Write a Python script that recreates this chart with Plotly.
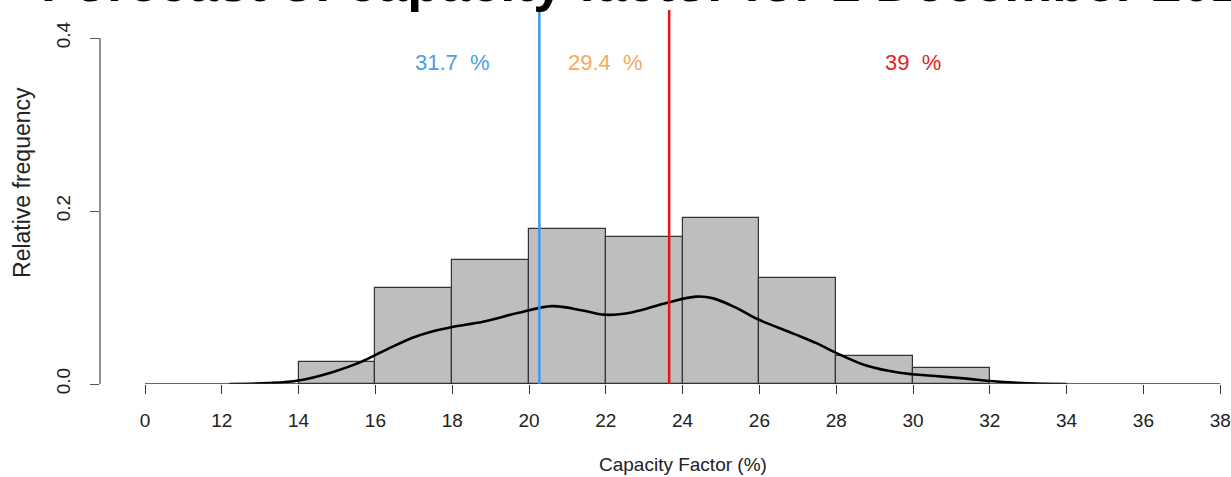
import numpy as np
import plotly.graph_objects as go

# ---------------- data ----------------
bin_edges = [14, 16, 18, 20, 22, 24, 26, 28, 30, 32]
rel_freq = [0.025, 0.111, 0.143, 0.179, 0.170, 0.192, 0.123, 0.032, 0.019]

dens_x = [12.2, 13.2, 14.0, 14.9, 15.6, 16.3, 17.0, 17.5, 18.0, 18.8, 19.7,
          20.6, 21.4, 22.0, 22.7, 23.6, 24.35, 24.8, 25.4, 25.9, 26.9, 27.5,
          28.0, 28.8, 29.65, 30.5, 31.4, 32.0, 33.0, 34.0]
dens_y = [0.0, 0.001, 0.004, 0.014, 0.025, 0.040, 0.054, 0.061, 0.066, 0.072,
          0.082, 0.090, 0.085, 0.080, 0.083, 0.094, 0.101, 0.099, 0.088, 0.076,
          0.058, 0.047, 0.036, 0.021, 0.013, 0.0095, 0.0062, 0.0035, 0.0008, 0.0]

vline_x = [20.27, 23.65]
vline_colors = ["#3C9AE6", "#E5141B"]

label_x = [18, 22, 30]
label_y = 0.372
label_text = ["31.7\u00a0 %", "29.4\u00a0 %", "39\u00a0 %"]
label_colors = ["#4A9FE6", "#F4AA5C", "#E2231A"]

x_tickvals = [10, 12, 14, 16, 18, 20, 22, 24, 26, 28, 30, 32, 34, 36, 38]
x_ticktext = ["0", "12", "14", "16", "18", "20", "22", "24", "26", "28",
              "30", "32", "34", "36", "38"]
y_tickvals = [0.0, 0.2, 0.4]
y_ticktext = ["0.0", "0.2", "0.4"]

title_text = "Forecast of capacity factor for 1 December 2021"
x_title = "Capacity Factor (%)"
y_title = "Relative frequency"

# ---------------- figure ----------------
FONT = "Liberation Sans, Arial, Helvetica, sans-serif"
edges = np.array(bin_edges, dtype=float)
centers = (edges[:-1] + edges[1:]) / 2
widths = np.diff(edges)

fig = go.Figure()
fig.add_trace(go.Bar(
    x=centers, y=rel_freq, width=widths,
    marker=dict(color="#BEBEBE", line=dict(color="#333333", width=1.2)),
    showlegend=False, hoverinfo="skip"))
fig.add_trace(go.Scatter(
    x=dens_x, y=dens_y, mode="lines",
    line=dict(color="black", width=2.6, shape="spline", smoothing=1.0),
    showlegend=False, hoverinfo="skip"))

shapes = []
shapes.append(dict(type="line", xref="x", yref="y",
                   x0=min(x_tickvals), x1=max(x_tickvals), y0=0, y1=0,
                   line=dict(color="#333333", width=1.3), layer="above"))
shapes.append(dict(type="line", xref="paper", yref="y",
                   x0=0, x1=0, y0=min(y_tickvals), y1=max(y_tickvals),
                   line=dict(color="#555555", width=1.3), layer="above"))
for vx, vc in zip(vline_x, vline_colors):
    shapes.append(dict(type="line", xref="x", yref="paper",
                       x0=vx, x1=vx, y0=0, y1=1,
                       line=dict(color=vc, width=2.5), layer="above"))

annotations = []
for lx, lt, lc in zip(label_x, label_text, label_colors):
    annotations.append(dict(x=lx, y=label_y, xref="x", yref="y", text=lt,
                            showarrow=False, font=dict(family=FONT, size=22, color=lc),
                            xanchor="center", yanchor="middle"))
annotations.append(dict(x=(min(x_tickvals) + max(x_tickvals)) / 2, xref="x",
                        y=-0.2, yref="paper", text=x_title, showarrow=False,
                        font=dict(family=FONT, size=19, color="#222222"),
                        xanchor="center", yanchor="middle", yshift=-6))
annotations.append(dict(x=-0.069, xref="paper", y=0.2335, yref="y",
                        text=y_title, showarrow=False, textangle=-90,
                        font=dict(family=FONT, size=23, color="#222222"),
                        xanchor="center", yanchor="middle"))
annotations.append(dict(x=-0.054, xref="paper", y=1, yref="paper",
                        text="<b>" + title_text + "</b>", showarrow=False,
                        font=dict(family=FONT, size=54, color="black"),
                        xanchor="left", yanchor="bottom", yshift=-4))

fig.update_layout(
    width=1231, height=477,
    margin=dict(l=100, r=0, t=10, b=93, pad=0),
    paper_bgcolor="white", plot_bgcolor="white",
    bargap=0, shapes=shapes, annotations=annotations,
    xaxis=dict(range=[10 - 45 / 38.4, 10 - 45 / 38.4 + 1131 / 38.4],
               tickvals=x_tickvals, ticktext=x_ticktext,
               ticks="outside", ticklen=9, tickwidth=1.3, tickcolor="#333333",
               showline=False, showgrid=False, zeroline=False,
               tickfont=dict(family=FONT, size=19, color="#222222"),
               ticklabelstandoff=10),
    yaxis=dict(range=[0, 374 / 865],
               tickvals=y_tickvals, ticktext=y_ticktext, tickangle=-90,
               ticks="outside", ticklen=9, tickwidth=1.3, tickcolor="#555555",
               showline=False, showgrid=False, zeroline=False,
               tickfont=dict(family=FONT, size=19, color="#222222"),
               ticklabelstandoff=12),
)

fig.write_html("out.html")
